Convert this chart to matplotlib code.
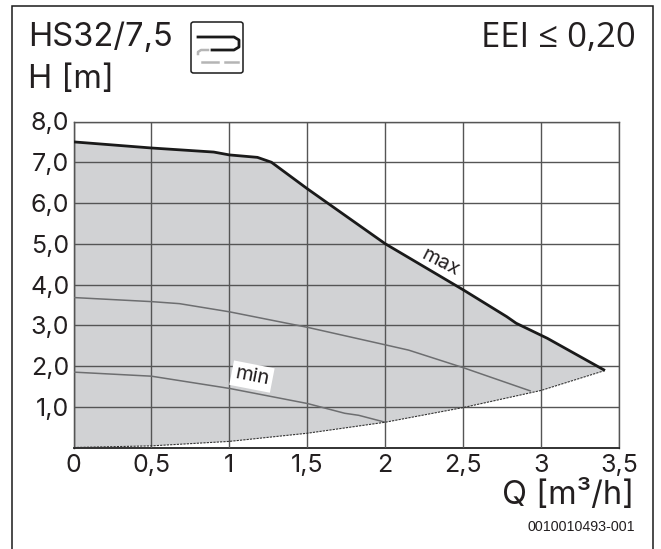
import matplotlib
matplotlib.use("Agg")
import matplotlib.pyplot as plt
from matplotlib.patches import FancyBboxPatch, Rectangle

W, H = 661, 549

# curves
max_q = [0, 0.5, 0.9, 1.0, 1.18, 1.27, 1.5, 2.0, 2.5, 2.78, 2.84, 3.04, 3.41]
max_h = [7.5, 7.35, 7.25, 7.18, 7.12, 7.0, 6.35, 5.0, 3.87, 3.21, 3.05, 2.68, 1.89]
mid_q = [0, 0.5, 0.68, 1.0, 1.5, 2.0, 2.15, 2.5, 2.56, 2.93]
mid_h = [3.68, 3.58, 3.53, 3.33, 2.95, 2.52, 2.39, 1.96, 1.88, 1.39]
min_q = [0, 0.5, 1.0, 1.5, 1.74, 1.83, 2.0]
min_h = [1.85, 1.75, 1.45, 1.08, 0.84, 0.79, 0.62]
low_q = [0, 0.5, 1.0, 1.5, 2.0, 2.5, 3.0, 3.41]
low_h = [0, 0.04, 0.15, 0.35, 0.62, 0.98, 1.4, 1.89]

x_ticks = [0, 0.5, 1, 1.5, 2, 2.5, 3, 3.5]
x_labels = ["0", "0,5", "1", "1,5", "2", "2,5", "3", "3,5"]
y_ticks = [1, 2, 3, 4, 5, 6, 7, 8]
y_labels = ["1,0", "2,0", "3,0", "4,0", "5,0", "6,0", "7,0", "8,0"]

plt.rcParams["font.family"] = ["Inter", "DejaVu Sans"]
TXT = "#231f20"


def fx(px):
    return px / W


def fy(py):
    return 1 - py / H


fig = plt.figure(figsize=(W / 100, H / 100), dpi=100)

# outer frame, runs off the bottom of the page
fig.add_artist(Rectangle((fx(12), fy(560)), fx(653) - fx(12), fy(6.5) - fy(560),
                         transform=fig.transFigure, fill=False, ec="#1a1a1a", lw=1.1))

ax = fig.add_axes([fx(73.5), fy(447.5), fx(619) - fx(73.5), fy(121.5) - fy(447.5)])
ax.set_xlim(0, 3.5)
ax.set_ylim(0, 8)

# shaded operating area between the max curve and the lower limit
ax.fill(max_q + low_q[::-1], max_h + low_h[::-1], color="#d1d2d4", lw=0, zorder=1)
ax.grid(True, color="#555555", lw=1.0, zorder=2)
ax.set_axisbelow(False)
ax.plot(mid_q, mid_h, color="#6d6e70", lw=1.1, zorder=3)
ax.plot(min_q, min_h, color="#6d6e70", lw=1.1, zorder=3)
ax.plot(low_q, low_h, color="#333333", lw=0.8, ls=(0, (2, 1)), zorder=3)
ax.plot(max_q, max_h, color="#1a1a1a", lw=2.0, zorder=4, solid_capstyle="butt")

ax.set_xticks(x_ticks, x_labels)
ax.set_yticks(y_ticks, y_labels)
ax.tick_params(length=0, labelsize=18, colors=TXT, pad=5)
ax.tick_params(axis="y", pad=3)
for spine in ax.spines.values():
    spine.set_color("#555555")
    spine.set_linewidth(1.0)
ax.spines["left"].set_color("#222222")
ax.spines["bottom"].set_color("#222222")
ax.spines["bottom"].set_linewidth(1.3)

ax.text(1.145, 1.74, "min", rotation=-11, fontsize=14.5, color=TXT, ha="center", va="center",
        zorder=5, bbox=dict(fc="white", ec="none", pad=2.5))
ax.text(2.357, 4.53, "max", rotation=-27, fontsize=14.5, color=TXT, ha="center", va="center",
        zorder=5)

fig.text(fx(28), fy(38), "HS32/7,5", fontsize=23.5, color=TXT, ha="left", va="center")
fig.text(fx(28), fy(80), "H [m]", fontsize=23.5, color=TXT, ha="left", va="center")
fig.text(fx(636), fy(38), "EEI ≤ 0,20", fontsize=25, color=TXT, ha="right", va="center",
         family=["Open Sans", "DejaVu Sans"])
fig.text(fx(634), fy(495), "Q [m³/h]", fontsize=23.5, color=TXT, ha="right", va="center")
fig.text(fx(635), fy(527), "0010010493-001", fontsize=10.3, color=TXT, ha="right", va="center",
         family=["Liberation Sans"])

# pump mode icon
fig.add_artist(FancyBboxPatch((fx(191), fy(73)), fx(243) - fx(191), fy(22) - fy(73),
                              boxstyle="round,pad=0,rounding_size=0.004",
                              transform=fig.transFigure, fill=False, ec="#1a1a1a", lw=1.1))
icon_top_x = [fx(198), fx(234), fx(239), fx(239), fx(234), fx(212)]
icon_top_y = [fy(37), fy(37), fy(40), fy(47), fy(50), fy(50)]
fig.add_artist(plt.Line2D(icon_top_x, icon_top_y, transform=fig.transFigure, color="#1a1a1a", lw=2.0))
icon_mid_x = [fx(198), fx(198), fx(201), fx(208)]
icon_mid_y = [fy(54), fy(52), fy(50), fy(50)]
fig.add_artist(plt.Line2D(icon_mid_x, icon_mid_y, transform=fig.transFigure, color="#b5b5b5", lw=1.8))
fig.add_artist(plt.Line2D([fx(202), fx(218)], [fy(62), fy(62)], transform=fig.transFigure, color="#b5b5b5", lw=1.8))
fig.add_artist(plt.Line2D([fx(225), fx(238)], [fy(62), fy(62)], transform=fig.transFigure, color="#b5b5b5", lw=1.8))

fig.savefig("out.png", dpi=100)
